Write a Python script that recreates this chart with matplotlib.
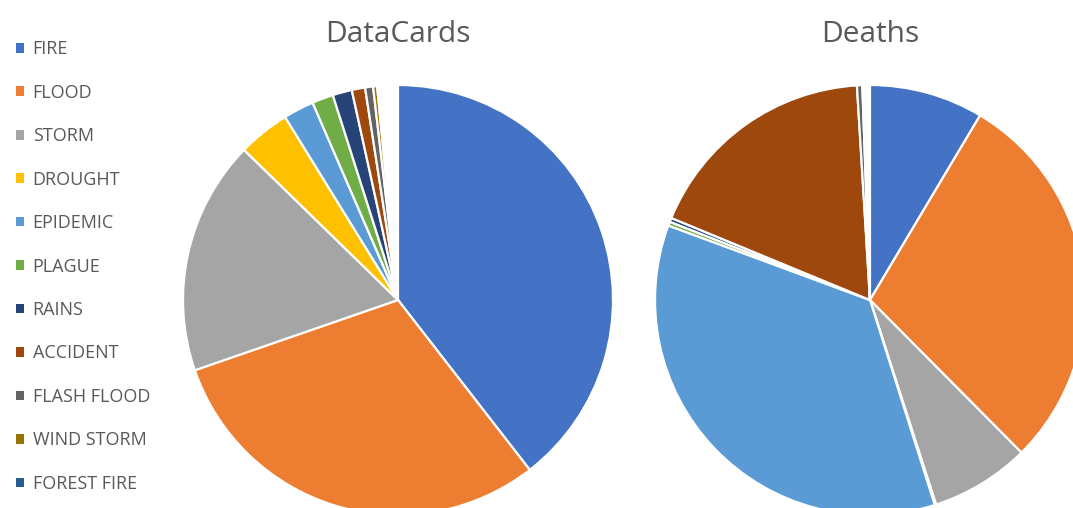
import matplotlib.pyplot as plt
from matplotlib.patches import Patch

# disaster categories (legend order)
categories = ["FIRE", "FLOOD", "STORM", "DROUGHT", "EPIDEMIC", "PLAGUE",
              "RAINS", "ACCIDENT", "FLASH FLOOD", "WIND STORM", "FOREST FIRE"]

# share of records / deaths (remaining share = other tiny causes, left blank)
datacards = [0.395, 0.302, 0.176, 0.039, 0.023, 0.016,
             0.0145, 0.010, 0.006, 0.003, 0.001]
deaths = [0.0856, 0.290, 0.0747, 0.001, 0.355, 0.003,
          0.003, 0.178, 0.004, 0.001, 0.0005]

colors = ["#4472C4", "#ED7D31", "#A5A5A5", "#FFC000", "#5B9BD5", "#70AD47",
          "#264478", "#9E480E", "#636363", "#997300", "#255E91"]

plt.rcParams['font.family'] = ['Open Sans', 'DejaVu Sans']
W, H = 1073, 508
fig = plt.figure(figsize=(W / 100, H / 100), dpi=100)


def draw_pie(cx, cy, r, values, title):
    ax = fig.add_axes([(cx - r) / W, (H - cy - r) / H, 2 * r / W, 2 * r / H])
    ax.pie(values, colors=colors, startangle=90, counterclock=False,
           normalize=False, radius=1,
           wedgeprops=dict(edgecolor="white", linewidth=1.6))
    ax.set_xlim(-1, 1)
    ax.set_ylim(-1, 1)
    ax.set_aspect("equal")
    ax.axis("off")
    fig.text(cx / W, 1 - 34 / H, title, ha="center", va="center",
             fontsize=21.5, color="#595959")
    return ax


draw_pie(398, 300, 215, datacards, "DataCards")
draw_pie(870, 300, 215, deaths, "Deaths")

handles = [Patch(facecolor=c, edgecolor="none") for c in colors]
fig.legend(handles, categories, loc="upper left", bbox_to_anchor=(0.0085, 0.935),
           frameon=False, fontsize=13, labelcolor="#595959",
           handlelength=0.45, handleheight=0.45, handletextpad=0.45,
           labelspacing=1.41, borderaxespad=0)

fig.savefig("out.png", dpi=100)
